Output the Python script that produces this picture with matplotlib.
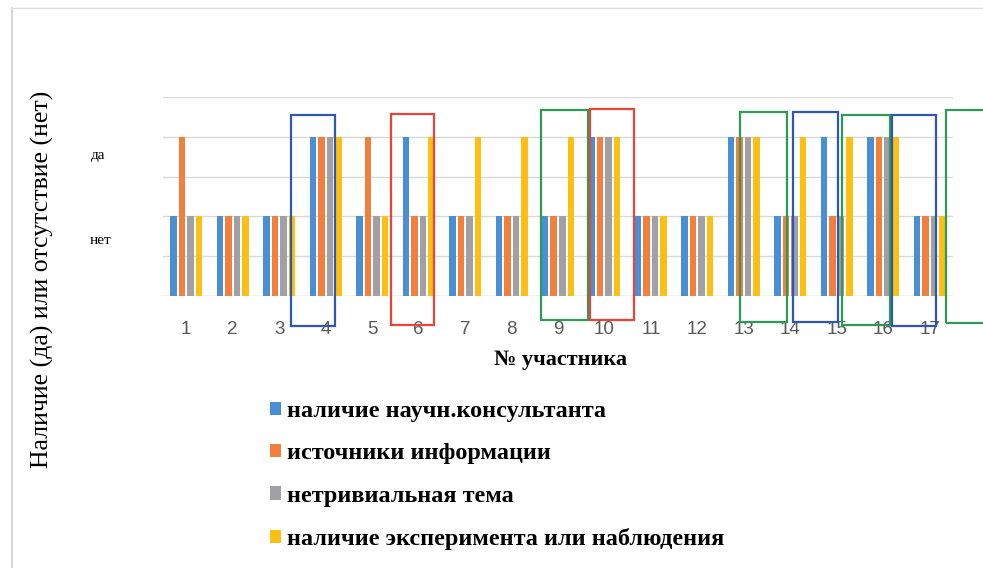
import numpy as np
import matplotlib.pyplot as plt
from matplotlib.patches import Rectangle
from matplotlib.lines import Line2D

plt.rcParams["font.family"] = ["Liberation Serif", "DejaVu Serif"]

# data: 1 = нет, 2 = да
participants = list(range(1, 18))
consultant = [1, 1, 1, 2, 1, 2, 1, 1, 1, 2, 1, 1, 2, 1, 2, 2, 1]
sources = [2, 1, 1, 2, 2, 1, 1, 1, 1, 2, 1, 1, 2, 1, 1, 2, 1]
topic = [1, 1, 1, 2, 1, 1, 1, 1, 1, 2, 1, 1, 2, 1, 1, 2, 1]
experiment = [1, 1, 1, 2, 1, 2, 2, 2, 2, 2, 1, 1, 2, 2, 2, 2, 1]
series_names = ["наличие научн.консультанта", "источники информации",
                "нетривиальная тема", "наличие эксперимента или наблюдения"]
ytick_labels = ["нет", "да"]

colors = ["#4a8fd6", "#f2803c", "#a39fa6", "#fdbf14"]

# hand drawn boxes on the scan: (x0, x1, y0, y1, colour)
boxes = [(3.26, 4.20, -0.38, 2.27, "#2f56b0"),
         (5.41, 6.33, -0.36, 2.29, "#e8443a"),
         (8.63, 9.65, -0.30, 2.34, "#2e9a55"),
         (9.69, 10.63, -0.30, 2.35, "#e8443a"),
         (12.91, 13.92, -0.33, 2.31, "#2e9a55"),
         (14.05, 15.02, -0.33, 2.31, "#2f56b0"),
         (15.11, 16.14, -0.37, 2.27, "#2e9a55"),
         (16.18, 17.13, -0.38, 2.27, "#2f56b0"),
         (17.34, 18.40, -0.34, 2.34, "#2e9a55")]

fig = plt.figure(figsize=(9.83, 5.68), dpi=100)
ax = fig.add_axes([0.1658, 0.4789, 0.8037, 0.3503])

x = np.array(participants)
width = 0.14
step = 0.183
for i, vals in enumerate([consultant, sources, topic, experiment]):
    ax.bar(x + (i - 1.5) * step, vals, width, color=colors[i], label=series_names[i], zorder=2)

ax.set_xlim(0.5, 17.5)
ax.set_ylim(0, 2.5)
ax.set_yticks([0, 0.5, 1, 1.5, 2, 2.5])
ax.yaxis.grid(True, color="#d9d9d9", linewidth=1.0, zorder=0)
ax.set_yticklabels([])
ax.tick_params(axis="y", length=0)
ax.set_xticks(x)
ax.set_xticklabels([str(p) for p in participants], fontsize=13.5, color="#595959",
                   family=["Liberation Sans", "DejaVu Sans"])
ax.tick_params(axis="x", length=0, pad=18)
for s in ax.spines.values():
    s.set_visible(False)
ax.axhline(0, color="#d9d9d9", linewidth=1.0, zorder=1)

# category labels of y axis
ax.text(-0.082, 1.77 / 2.5, ytick_labels[1], transform=ax.transAxes, fontsize=11,
        ha="center", va="center")
ax.text(-0.079, 0.70 / 2.5, ytick_labels[0], transform=ax.transAxes, fontsize=11,
        ha="center", va="center")

for x0, x1, y0, y1, c in boxes:
    ax.add_patch(Rectangle((x0, y0), x1 - x0, y1 - y0, fill=False, edgecolor=c,
                           linewidth=1.6, clip_on=False, zorder=3))

fig.text(561 / 983, 1 - 360 / 568, "№ участника", fontsize=16, fontweight="bold",
         ha="center", va="center")
fig.text(42 / 983, 1 - 279 / 568, "Наличие (да) или отсутствие (нет)", fontsize=18.5,
         rotation=90, ha="center", va="center")

handles, labels = ax.get_legend_handles_labels()
fig.legend(handles, labels, loc="upper left", bbox_to_anchor=(248 / 983, 1 - 379 / 568),
           frameon=False, prop={"size": 17.5, "weight": "bold"}, handlelength=0.45,
           handleheight=0.45, handletextpad=0.25, labelspacing=0.88)

# scan border
fig.add_artist(Line2D([12 / 983, 12 / 983], [0, 1 - 8 / 568], color="#cfcfcf", linewidth=1.2))
fig.add_artist(Line2D([12 / 983, 1], [1 - 8 / 568, 1 - 8 / 568], color="#dcdcdc", linewidth=1.0))

fig.savefig("out.png", dpi=100)
